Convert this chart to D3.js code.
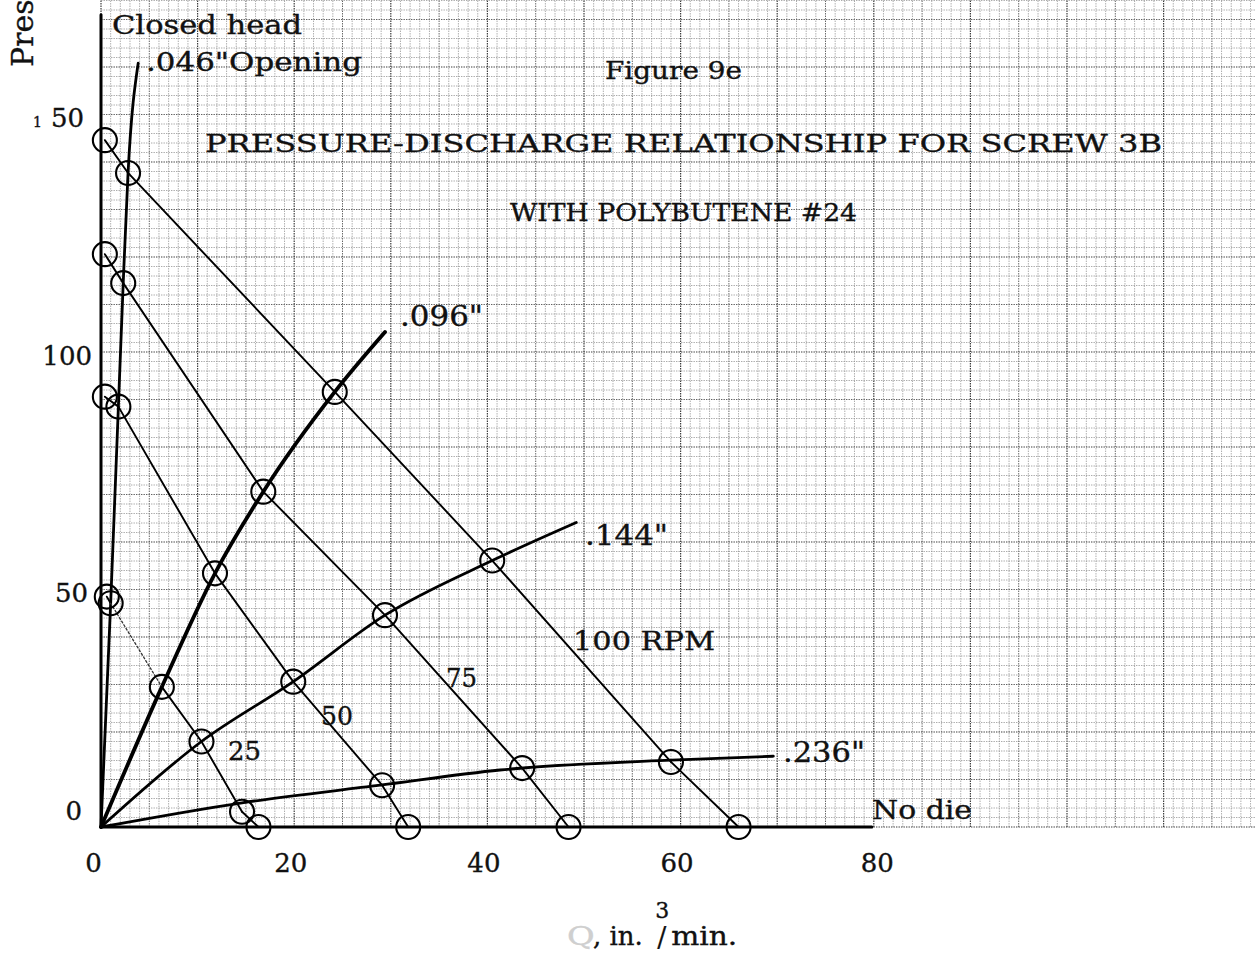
<!DOCTYPE html>
<html>
<head>
<meta charset="utf-8">
<script src="https://cdn.jsdelivr.net/npm/d3@7"></script>
<style>
  html, body { margin: 0; padding: 0; background: #fff; }
  svg { display: block; }
  text { font-family: "DejaVu Serif", "Liberation Serif", serif; fill: #111; stroke: #111; stroke-width: 0.35px; }
</style>
</head>
<body>
<svg id="chart" width="1256" height="955"></svg>
<script>
// Screw 3B, polybutene #24: measured discharge Q (in.^3/min) and pressure P (psi).
// Each speed row lists, in order: closed head, .046", .096", .144", .236", no die.
const speeds = ["25", "50", "75", "100"];
const q25  = [0.6, 1.0, 6.3, 10.4, 14.6, 16.3];
const p25  = [48.5, 47.1, 29.5, 18.0, 3.2, 0];
const q50  = [0.4, 1.8, 11.8, 19.9, 29.1, 31.8];
const p50  = [90.6, 88.5, 53.4, 30.6, 8.8, 0];
const q75  = [0.4, 2.3, 16.8, 29.4, 43.6, 48.4];
const p75  = [120.6, 114.5, 70.6, 44.6, 12.4, 0];
const q100 = [0.4, 2.8, 24.2, 40.5, 59.0, 66.0];
const p100 = [144.6, 137.7, 91.6, 56.1, 13.7, 0];

// Die characteristic curves (faired through the points, starting at the origin)
const dies = ["Closed head", ".046\"", ".096\"", ".144\"", ".236\"", "No die"];
const qClosed = [0, 0];         const pClosed = [0, 171];
const q046 = [0, 1.0, 1.8, 2.3, 2.8, 3.85];   const p046 = [0, 47.1, 88.5, 114.5, 137.7, 160.8];
const q096 = [0, 6.3, 11.8, 16.8, 24.2, 29.4]; const p096 = [0, 29.5, 53.4, 70.6, 91.6, 104.2];
const q144 = [0, 10.4, 19.9, 29.4, 40.5, 49.2]; const p144 = [0, 18.0, 30.6, 44.6, 56.1, 64.1];
const q236 = [0, 14.6, 28.9, 41.3, 59.0, 69.6]; const p236 = [0, 5.1, 8.8, 12.0, 14.1, 14.9];
const qNoDie = [0, 79.8];       const pNoDie = [0, 0];

// Axis ticks
const qTicks = [0, 20, 40, 60, 80];
const pTicks = [0, 50, 100, 150];

// ---------------------------------------------------------------------------
const W = 1256, H = 955;
const svg = d3.select("#chart");
svg.append("rect").attr("width", W).attr("height", H).attr("fill", "#fff");

const x = d3.scaleLinear().domain([0, 80]).range([101, 101 + 80 * 9.66]);
const y = d3.scaleLinear().domain([0, 150]).range([827, 827 - 150 * 4.75]);

// Graph paper: one square per unit of Q and per 2 psi, heavier every 5 / 10 squares
const paper = svg.append("g").attr("class", "paper");
const qPaper = d3.range(0, Math.floor(x.invert(W)) + 1);
const pPaper = d3.range(0, y.invert(0), 2);
function gridStroke(i) { return i % 10 === 0 ? "#3e3e3e" : i % 5 === 0 ? "#626262" : "#969696"; }
function gridWidth(i)  { return i % 10 === 0 ? 1.2 : i % 5 === 0 ? 1.0 : 0.8; }
paper.selectAll("line.v").data(qPaper).join("line").attr("class", "v")
  .attr("x1", d => x(d)).attr("x2", d => x(d))
  .attr("y1", y(0)).attr("y2", 0)
  .attr("stroke", d => gridStroke(d)).attr("stroke-width", d => gridWidth(d))
  .attr("stroke-dasharray", "1.4 1.1");
paper.selectAll("line.h").data(pPaper).join("line").attr("class", "h")
  .attr("x1", x(0)).attr("x2", W)
  .attr("y1", d => y(d)).attr("y2", d => y(d))
  .attr("stroke", d => gridStroke(d / 2)).attr("stroke-width", d => gridWidth(d / 2))
  .attr("stroke-dasharray", "1.4 1.1");

// Die curves
const curve = d3.line().x(d => x(d[0])).y(d => y(d[1])).curve(d3.curveMonotoneX);
const straight = d3.line().x(d => x(d[0])).y(d => y(d[1]));
const zip = (qs, ps) => qs.map((q, i) => [q, ps[i]]);

const dieLines = [
  { pts: zip(qClosed, pClosed), w: 3.0, gen: straight },
  { pts: zip(qNoDie, pNoDie),   w: 3.0, gen: straight },
  { pts: zip(q046, p046),       w: 2.8, gen: curve },
  { pts: zip(q096, p096),       w: 3.8, gen: curve },
  { pts: zip(q144, p144),       w: 2.8, gen: curve },
  { pts: zip(q236, p236),       w: 2.8, gen: curve }
];
const gDies = svg.append("g").attr("fill", "none").attr("stroke", "#000")
  .attr("stroke-linecap", "round").attr("stroke-linejoin", "round");
dieLines.forEach(d => {
  gDies.append("path").attr("d", d.gen(d.pts)).attr("stroke-width", d.w);
});

// Constant-speed lines through the measured points
const speedRows = [zip(q25, p25), zip(q50, p50), zip(q75, p75), zip(q100, p100)];
const gSpeed = svg.append("g").attr("fill", "none").attr("stroke", "#000")
  .attr("stroke-linecap", "round");
speedRows.forEach((row, si) => {
  for (let i = 0; i < row.length - 1; i++) {
    const seg = gSpeed.append("path").attr("d", straight([row[i], row[i + 1]]));
    if (si === 0 && i === 1) {
      // the 25 rpm leg between the .046" and .096" points is only dotted in
      seg.attr("stroke-width", 1.3).attr("stroke-dasharray", "2 2.2").attr("stroke", "#333");
    } else {
      seg.attr("stroke-width", 1.9);
    }
  }
});

// Data point circles
const allPts = speedRows.flat();
svg.append("g").selectAll("circle").data(allPts).join("circle")
  .attr("cx", d => x(d[0])).attr("cy", d => y(d[1])).attr("r", 12)
  .attr("fill", "none").attr("stroke", "#000").attr("stroke-width", 2.1);

// Axes (tick labels only; the paper supplies the rules)
const axX = svg.append("g").attr("transform", `translate(-4,${y(0)})`)
  .call(d3.axisBottom(x).tickValues(qTicks).tickSize(0).tickPadding(27).tickFormat(d3.format("d")));
axX.select(".domain").remove();
axX.selectAll("text").attr("font-size", 26).attr("font-family", "DejaVu Serif").attr("fill", "#111");
axX.selectAll(".tick").filter(d => d === 0).select("text").attr("x", -4);
axX.selectAll(".tick").filter(d => d === 80).select("text").attr("x", 7);

const axY = svg.append("g").attr("transform", `translate(88,4)`)
  .call(d3.axisLeft(y).tickValues(pTicks).tickSize(0).tickPadding(0).tickFormat(d3.format("d")));
axY.select(".domain").remove();
axY.selectAll("text").attr("font-size", 26).attr("font-family", "DejaVu Serif").attr("fill", "#111");
axY.selectAll(".tick").filter(d => d === 0).select("text").attr("dy", "-0.45em").attr("x", -6);
axY.selectAll(".tick").filter(d => d === 100).select("text").attr("x", 4);
axY.selectAll(".tick").filter(d => d === 150).select("text").each(function () {
  const t = d3.select(this).text("").attr("x", -4);
  t.append("tspan").attr("font-size", 14).attr("dx", 0).text("1");
  t.append("tspan").attr("dx", 9).text("50");
});

// Labels
const notes = [
  { t: "Closed head", x: 112, y: 34, len: 190, s: 26 },
  { t: ".046\"Opening", x: 146, y: 71, len: 216, s: 26 },
  { t: "Figure 9e", x: 605, y: 79, len: 137, s: 25 },
  { t: "PRESSURE-DISCHARGE RELATIONSHIP FOR SCREW 3B", x: 205, y: 152, len: 957, s: 25 },
  { t: "WITH POLYBUTENE #24", x: 510, y: 221, len: 347, s: 25 },
  { t: ".096\"", x: 400, y: 326, len: 83, s: 27 },
  { t: ".144\"", x: 585, y: 545, len: 83, s: 27 },
  { t: "100 RPM", x: 573, y: 650, len: 142, s: 26 },
  { t: "75", x: 446, y: 687, len: 31, s: 26 },
  { t: "50", x: 321, y: 725, len: 32, s: 26 },
  { t: "25", x: 228, y: 760, len: 33, s: 26 },
  { t: ".236\"", x: 783, y: 762, len: 82, s: 27 },
  { t: "No die", x: 872, y: 819, len: 100, s: 26 }
];
svg.append("g").selectAll("text").data(notes).join("text")
  .attr("x", d => d.x).attr("y", d => d.y)
  .attr("font-size", d => d.s)
  .attr("textLength", d => d.len).attr("lengthAdjust", "spacingAndGlyphs")
  .text(d => d.t);

// Axis titles
svg.append("text").attr("transform", "translate(33,67) rotate(-90)")
  .attr("font-size", 30).text("Pressure, psi");

// Q, in.^3/min. — the exponent sits over the slash
const xt = svg.append("text").attr("x", 567).attr("y", 945).attr("font-size", 26);
xt.append("tspan").attr("fill", "#cfcfcf").attr("stroke", "#cfcfcf")
  .attr("textLength", 26).attr("lengthAdjust", "spacingAndGlyphs").text("Q");
xt.append("tspan").text(", in. ");
xt.append("tspan").attr("dy", -27).attr("dx", 4).attr("font-size", 22).text("3");
xt.append("tspan").attr("dy", 29).attr("dx", -12).attr("font-size", 27).attr("stroke-width", 0.2).text("/");
xt.append("tspan").attr("dy", -2).attr("dx", 5)
  .attr("textLength", 66).attr("lengthAdjust", "spacingAndGlyphs").text("min.");
</script>
</body>
</html>
